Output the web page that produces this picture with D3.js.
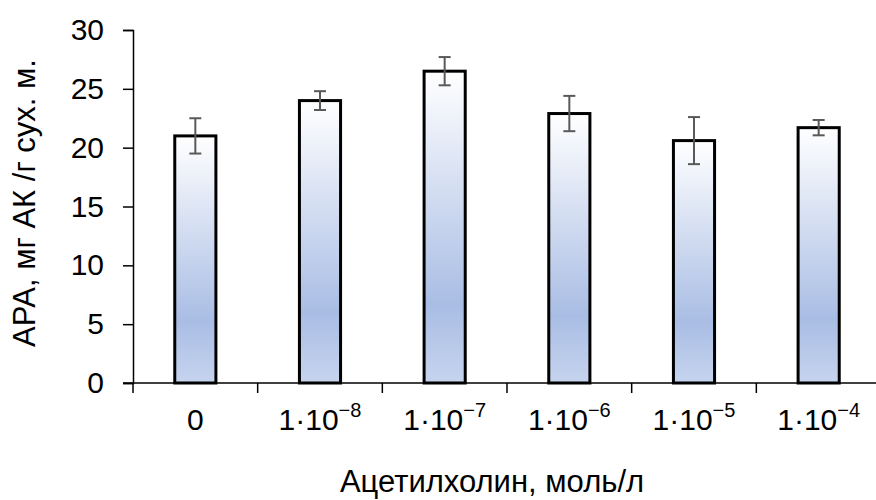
<!DOCTYPE html>
<html>
<head>
<meta charset="utf-8">
<script src="https://cdn.jsdelivr.net/npm/d3@7"></script>
<style>
  body { margin: 0; background: #fff; }
  svg { font-family: "Liberation Sans", Arial, sans-serif; }
</style>
</head>
<body>
<div id="chart"></div>
<script>
'use strict';

// concentrations of acetylcholine, mol/l (base + exponent for label)
const categories = ['0', '1e-8', '1e-7', '1e-6', '1e-5', '1e-4'];
const labelExp = [null, '−8', '−7', '−6', '−5', '−4'];
const values = [21.0, 24.0, 26.5, 22.9, 20.6, 21.7];
const errors = [1.5, 0.8, 1.2, 1.5, 2.0, 0.65];
const yTicks = [0, 5, 10, 15, 20, 25, 30];

const width = 876, height = 500;
const margin = {top: 30, right: -5, bottom: 117, left: 133};

const svg = d3.select('#chart')
    .append('svg')
    .attr('width', width)
    .attr('height', height);

const defs = svg.append('defs');
const grad = defs.append('linearGradient')
    .attr('id', 'barFill')
    .attr('x1', 0).attr('y1', 0)
    .attr('x2', 0).attr('y2', 1);
grad.append('stop').attr('offset', '0%').attr('stop-color', '#ffffff');
grad.append('stop').attr('offset', '75%').attr('stop-color', '#a9bde4');
grad.append('stop').attr('offset', '100%').attr('stop-color', '#c6d4ee');

const x = d3.scaleBand()
    .domain(categories)
    .range([margin.left, width - margin.right])
    .paddingInner(0.67)
    .paddingOuter(0.335);

const y = d3.scaleLinear()
    .domain([0, 30])
    .range([height - margin.bottom, margin.top]);

// bars
svg.append('g')
    .selectAll('rect')
    .data(values)
    .join('rect')
    .attr('x', (d, i) => x(categories[i]))
    .attr('y', d => y(d))
    .attr('width', x.bandwidth())
    .attr('height', d => y(0) - y(d))
    .attr('fill', 'url(#barFill)')
    .attr('stroke', '#000')
    .attr('stroke-width', 3);

// error bars
const eb = svg.append('g')
    .attr('stroke', '#595959')
    .attr('stroke-width', 2);
const cx = i => x(categories[i]) + x.bandwidth() / 2;
values.forEach((v, i) => {
    const top = y(v + errors[i]), bot = y(v - errors[i]);
    eb.append('line').attr('x1', cx(i)).attr('x2', cx(i)).attr('y1', top).attr('y2', bot);
    eb.append('line').attr('x1', cx(i) - 6).attr('x2', cx(i) + 6).attr('y1', top).attr('y2', top);
    eb.append('line').attr('x1', cx(i) - 6).attr('x2', cx(i) + 6).attr('y1', bot).attr('y2', bot);
});

// y axis
const yAxis = svg.append('g')
    .attr('transform', `translate(${margin.left},0)`)
    .call(d3.axisLeft(y).tickValues(yTicks).tickSize(10).tickPadding(19));
yAxis.select('.domain').attr('stroke-width', 1.5);
yAxis.selectAll('.tick line').attr('stroke-width', 1.5);
yAxis.selectAll('text')
    .attr('font-size', 30)
    .attr('font-family', '"Liberation Sans", Arial, sans-serif')
    .attr('fill', '#000');

// x axis: ticks at category boundaries
const bounds = d3.range(categories.length + 1)
    .map(i => margin.left + i * x.step());
const xg = svg.append('g');
xg.append('line')
    .attr('x1', margin.left - 10).attr('x2', width)
    .attr('y1', y(0)).attr('y2', y(0))
    .attr('stroke', '#000').attr('stroke-width', 1.5);
xg.selectAll('.xt')
    .data(bounds)
    .join('line')
    .attr('x1', d => d).attr('x2', d => d)
    .attr('y1', y(0)).attr('y2', y(0) + 10)
    .attr('stroke', '#000').attr('stroke-width', 1.5);

const labels = xg.selectAll('.xl')
    .data(categories)
    .join('text')
    .attr('x', d => x(d) + x.bandwidth() / 2)
    .attr('y', 430)
    .attr('text-anchor', 'middle')
    .attr('font-size', 30)
    .attr('fill', '#000');
labels.each(function (d, i) {
    const t = d3.select(this);
    if (labelExp[i] === null) {
        t.text(d);
    } else {
        t.append('tspan').text('1·10');
        t.append('tspan').attr('dy', -13).attr('font-size', 20).text(labelExp[i]);
    }
});

// axis titles
svg.append('text')
    .attr('x', 492)
    .attr('y', 492)
    .attr('text-anchor', 'middle')
    .attr('font-size', 31)
    .attr('fill', '#000')
    .text('Ацетилхолин, моль/л');

svg.append('text')
    .attr('transform', 'translate(35,203) rotate(-90)')
    .attr('text-anchor', 'middle')
    .attr('font-size', 31)
    .attr('fill', '#000')
    .text('АРА, мг АК /г сух. м.');
</script>
</body>
</html>
